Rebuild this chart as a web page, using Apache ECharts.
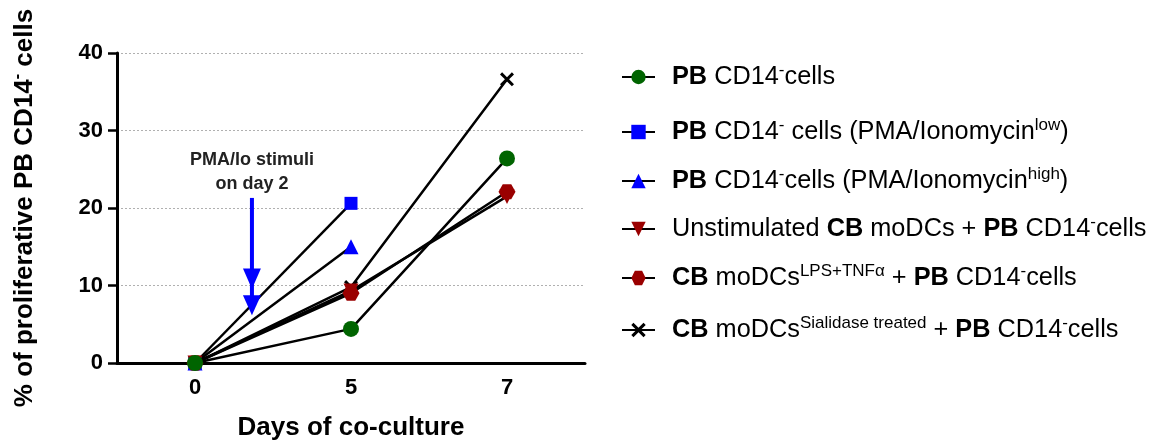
<!DOCTYPE html>
<html>
<head>
<meta charset="utf-8">
<script src="https://cdn.jsdelivr.net/npm/echarts@6/dist/echarts.min.js"></script>
<style>
html,body{margin:0;padding:0;background:#fff;}
#chart{width:1157px;height:441px;}
</style>
</head>
<body>
<div id="chart"></div>
<script>
// ---- data ----
const days = ['0', '5', '7'];
const seriesNames = [
  'PB CD14- cells',
  'PB CD14- cells (PMA/Ionomycin low)',
  'PB CD14- cells (PMA/Ionomycin high)',
  'Unstimulated CB moDCs + PB CD14- cells',
  'CB moDCs LPS+TNFa + PB CD14- cells',
  'CB moDCs Sialidase treated + PB CD14- cells'
];
const legendLabels = [
  '{b|PB} CD14{s|-}cells',
  '{b|PB} CD14{s|-} cells (PMA/Ionomycin{s|low})',
  '{b|PB} CD14{s|-}cells (PMA/Ionomycin{s|high})',
  'Unstimulated {b|CB} moDCs + {b|PB} CD14{s|-}cells',
  '{b|CB} moDCs{s|LPS+TNFα} + {b|PB} CD14{s|-}cells',
  '{b|CB} moDCs{s|Sialidase treated} + {b|PB} CD14{s|-}cells'
];
const pbCells    = [0, 4.4, 26.4];
const pmaLow     = [0, 20.6, null];
const pmaHigh    = [0, 15.0, null];
const unstimCB   = [0, 9.3, 21.5];
const lpsTnfCB   = [0, 9.0, 22.1];
const sialidaseCB = [0, 9.8, 36.6];
const yMin = 0, yMax = 40, yStep = 10;
const annotationLines = ['PMA/lo stimuli', 'on day 2'];

// ---- styles ----
const FONT = '"Liberation Sans", Arial, Helvetica, sans-serif';
const GREEN = '#006400', BLUE = '#0000ff', RED = '#9a0000', BLACK = '#000000';
const X_PATH = 'path://M0,3 L3,0 L10,7 L17,0 L20,3 L13,10 L20,17 L17,20 L10,13 L3,20 L0,17 L7,10 Z';
const HEX_PATH = 'path://M5,0 L15,0 L20,9 L15,18 L5,18 L0,9 Z';

const seriesDefs = [
  {data: pbCells, color: GREEN, symbol: 'circle', size: 16, z: 5},
  {data: pmaLow, color: BLUE, symbol: 'rect', size: 13, z: 3},
  {data: pmaHigh, color: BLUE, symbol: 'triangle', size: 15, z: 3},
  {data: unstimCB, color: RED, symbol: 'triangle', size: 15, rotate: 180, z: 4},
  {data: lpsTnfCB, color: RED, symbol: HEX_PATH, size: [17, 15], z: 4},
  {data: sialidaseCB, color: BLACK, symbol: X_PATH, size: 14, z: 2}
];

const legendCenters = [77, 132, 181, 229, 278, 330];

const chart = echarts.init(document.getElementById('chart'), null, {renderer: 'canvas'});

const legendRich = {
  b: {fontFamily: FONT, fontWeight: 'bold', fontSize: 25.3, color: '#000', lineHeight: 30},
  s: {fontFamily: FONT, fontSize: 17, color: '#000', verticalAlign: 'top', lineHeight: 30}
};

const option = {
  animation: false,
  backgroundColor: '#fff',
  grid: {left: 117, right: 572, top: 53, bottom: 78, containLabel: false, outerBoundsMode: 'none'},
  legend: seriesNames.map((n, i) => ({
    data: [n],
    left: 621,
    top: legendCenters[i] - 15,
    padding: 0,
    itemWidth: 33,
    itemHeight: 18,
    selectedMode: false,
    formatter: () => legendLabels[i],
    textStyle: {
      fontFamily: FONT, fontSize: 25.3, color: '#000', lineHeight: 30,
      padding: [0, 0, 0, 12],
      rich: legendRich
    }
  })),
  xAxis: {
    type: 'category',
    data: days,
    boundaryGap: true,
    name: 'Days of co-culture',
    nameLocation: 'middle',
    nameGap: 52,
    nameTextStyle: {fontFamily: FONT, fontWeight: 'bold', fontSize: 26, color: '#000'},
    axisLine: {lineStyle: {color: '#000', width: 3}},
    axisTick: {alignWithLabel: true, length: 9, lineStyle: {color: '#000', width: 2.5}},
    axisLabel: {fontFamily: FONT, fontWeight: 'bold', fontSize: 22, color: '#000', margin: 14},
    splitLine: {show: false}
  },
  yAxis: {
    type: 'value',
    min: yMin, max: yMax, interval: yStep,
    name: '% of proliferative PB CD14{s|-} cells',
    nameLocation: 'middle',
    nameGap: 77,
    nameRotate: 90,
    nameTextStyle: {
      fontFamily: FONT, fontWeight: 'bold', fontSize: 26, color: '#000', lineHeight: 30,
      rich: {s: {fontFamily: FONT, fontWeight: 'bold', fontSize: 16, color: '#000', verticalAlign: 'top', lineHeight: 30}}
    },
    axisLine: {show: true, lineStyle: {color: '#000', width: 3}},
    axisTick: {show: true, length: 9, lineStyle: {color: '#000', width: 2.5}},
    axisLabel: {fontFamily: FONT, fontWeight: 'bold', fontSize: 22, color: '#000', margin: 14},
    splitLine: {show: true, lineStyle: {color: '#b0b0b0', width: 1, type: [2, 2]}}
  },
  series: seriesDefs.map((d, i) => ({
    name: seriesNames[i],
    type: 'line',
    data: d.data,
    symbol: d.symbol,
    symbolSize: d.size,
    symbolRotate: d.rotate || 0,
    showAllSymbol: true,
    connectNulls: false,
    z: d.z,
    itemStyle: {color: d.color, borderWidth: 0},
    lineStyle: {color: '#000', width: 2.5},
    emphasis: {disabled: true}
  }))
};

chart.setOption(option);

// ---- annotation (arrow marking stimulation on day 2) ----
const ARROW_FRACTION = 0.365; // position between category '0' and '5'
const px0 = chart.convertToPixel({xAxisIndex: 0}, days[0]);
const px5 = chart.convertToPixel({xAxisIndex: 0}, days[1]);
const ax = px0 + (px5 - px0) * ARROW_FRACTION;
const py = v => chart.convertToPixel({yAxisIndex: 0}, v);

const lineTop = py(21.3), head1Top = py(12.2), head1Tip = py(9.55), head2Top = py(8.75), head2Tip = py(6.15);
const hw = 9;

chart.setOption({
  graphic: [
    {type: 'line', shape: {x1: ax, y1: lineTop, x2: ax, y2: head2Top + 2}, style: {stroke: BLUE, lineWidth: 4}, z: 10},
    {type: 'polygon', shape: {points: [[ax - hw, head1Top], [ax + hw, head1Top], [ax, head1Tip]]}, style: {fill: BLUE}, z: 10},
    {type: 'polygon', shape: {points: [[ax - hw, head2Top], [ax + hw, head2Top], [ax, head2Tip]]}, style: {fill: BLUE}, z: 10},
    {type: 'text', x: ax, y: py(26.2), style: {text: annotationLines[0], font: 'bold 18px ' + FONT, fill: '#222', align: 'center', verticalAlign: 'middle'}, z: 10},
    {type: 'text', x: ax, y: py(23.1), style: {text: annotationLines[1], font: 'bold 18px ' + FONT, fill: '#222', align: 'center', verticalAlign: 'middle'}, z: 10}
  ]
});
</script>
</body>
</html>
